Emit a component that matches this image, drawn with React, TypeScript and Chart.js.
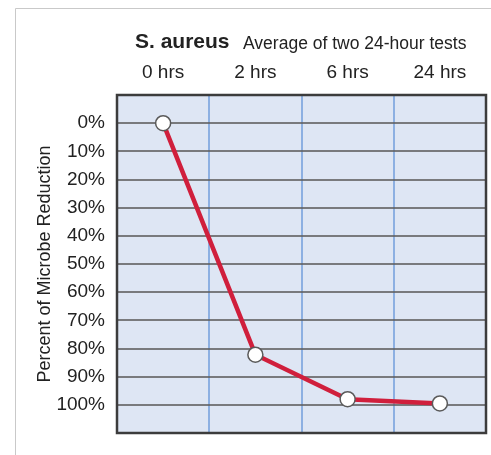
import React, { useEffect, useRef } from "react";
import { Chart, registerables } from "chart.js";

Chart.register(...registerables);

const categories = ["0 hrs", "2 hrs", "6 hrs", "24 hrs"];
const reduction = [0, 82.2, 98, 99.5];
const yTickValues = [0, 10, 20, 30, 40, 50, 60, 70, 80, 90, 100];
const titleBold = "S. aureus";
const titleRest = "Average of two 24-hour tests";
const yTitle = "Percent of Microbe Reduction";

const FONT = "'Liberation Sans', Arial, Helvetica, sans-serif";

const decorPlugin = {
  id: "decor",
  beforeDraw(chart: any) {
    const { ctx, chartArea } = chart;
    ctx.save();
    ctx.fillStyle = "#ffffff";
    ctx.fillRect(0, 0, chart.width, chart.height);
    ctx.strokeStyle = "#c9c9c9";
    ctx.lineWidth = 1;
    ctx.beginPath();
    ctx.moveTo(15.5, chart.height);
    ctx.lineTo(15.5, 8.5);
    ctx.lineTo(chart.width, 8.5);
    ctx.stroke();
    ctx.fillStyle = "#dee6f4";
    ctx.fillRect(chartArea.left, chartArea.top, chartArea.right - chartArea.left, chartArea.bottom - chartArea.top);
    ctx.restore();
  },
  beforeDatasetsDraw(chart: any) {
    const { ctx, chartArea } = chart;
    ctx.save();
    ctx.strokeStyle = "#3c3c3c";
    ctx.lineWidth = 2.5;
    ctx.strokeRect(chartArea.left, chartArea.top, chartArea.right - chartArea.left, chartArea.bottom - chartArea.top);
    ctx.restore();
  },
  afterDraw(chart: any) {
    const { ctx } = chart;
    ctx.save();
    ctx.fillStyle = "#222222";
    ctx.textBaseline = "alphabetic";
    ctx.textAlign = "left";
    ctx.font = `bold 21px ${FONT}`;
    ctx.fillText(titleBold, 135, 48);
    ctx.font = `17.5px ${FONT}`;
    ctx.fillText(titleRest, 243, 49);
    ctx.restore();
  },
};

export default function App() {
  const canvasRef = useRef<HTMLCanvasElement | null>(null);

  useEffect(() => {
    if (!canvasRef.current) return;
    const chart = new Chart(canvasRef.current, {
      type: "line",
      data: {
        labels: categories,
        datasets: [
          {
            data: reduction,
            borderColor: "#d01f3c",
            borderWidth: 4.5,
            pointRadius: 7.5,
            pointBackgroundColor: "#ffffff",
            pointBorderColor: "#5a5a5a",
            pointBorderWidth: 1.5,
            tension: 0,
          },
        ],
      },
      options: {
        responsive: false,
        animation: false,
        layout: { autoPadding: false, padding: { left: 0, top: 0, right: 5, bottom: 22 } },
        plugins: {
          legend: { display: false },
          tooltip: { enabled: false },
          title: { display: false },
        },
        scales: {
          x: {
            type: "category",
            position: "top",
            offset: true,
            grid: {
              offset: true,
              color: "#8db0e2",
              lineWidth: 2,
              drawTicks: false,
            },
            border: { display: false },
            ticks: {
              color: "#222222",
              font: { family: FONT, size: 19 },
              padding: 11,
              maxRotation: 0,
            },
            afterFit(scale: any) {
              scale.height = 95;
              scale.paddingLeft = 0;
              scale.paddingRight = 0;
            },
          },
          y: {
            type: "linear",
            reverse: true,
            min: -10,
            max: 110,
            afterBuildTicks(scale: any) {
              scale.ticks = yTickValues.map((v) => ({ value: v }));
            },
            afterFit(scale: any) {
              scale.width = 117;
              scale.paddingTop = 0;
              scale.paddingBottom = 0;
            },
            grid: {
              color: "rgba(95,95,95,0.8)",
              lineWidth: 2,
              drawTicks: false,
            },
            border: { display: false },
            ticks: {
              color: "#222222",
              font: { family: FONT, size: 19 },
              padding: 12,
              callback: (v: any) => `${v}%`,
            },
            title: {
              display: true,
              text: yTitle,
              color: "#222222",
              font: { family: FONT, size: 18 },
              padding: { top: 34, bottom: 0 },
            },
          },
        },
      },
      plugins: [decorPlugin],
    });
    return () => chart.destroy();
  }, []);

  return (
    <div style={{ position: "fixed", left: 0, top: 0, width: 491, height: 455 }}>
      <canvas ref={canvasRef} width={491} height={455} style={{ display: "block" }} />
    </div>
  );
}
